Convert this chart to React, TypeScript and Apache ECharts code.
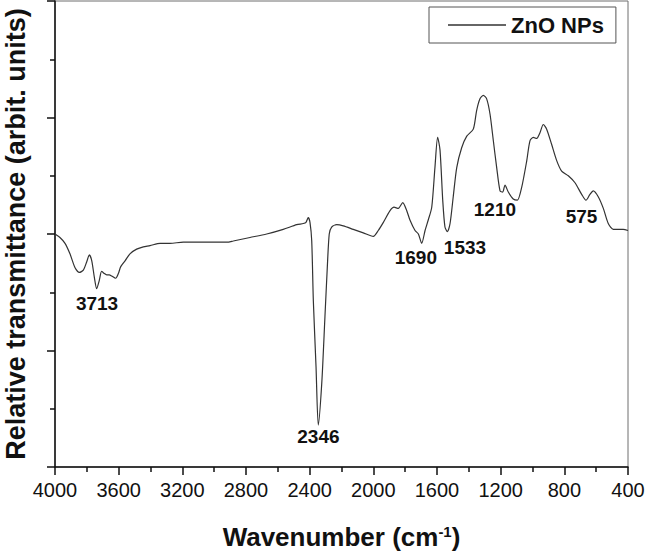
import React, { useEffect, useRef } from "react";
import * as echarts from "echarts";

// Wavenumber (cm^-1) sampled along the FTIR trace
const wavenumbers = [
  4000, 3969, 3937, 3906, 3874, 3847, 3822, 3801, 3784, 3769, 3753, 3738, 3722, 3707, 3690, 3675,
  3659, 3644, 3619, 3602, 3587, 3560, 3529, 3487, 3445, 3403, 3340, 3277, 3194, 3110, 3005, 2921,
  2880, 2775, 2670, 2566, 2481, 2440, 2423, 2409, 2398, 2387, 2377, 2360, 2346, 2324, 2304, 2289,
  2277, 2262, 2230, 2189, 2126, 2063, 2000, 1969, 1937, 1895, 1870, 1843, 1815, 1790, 1770, 1738,
  1717, 1696, 1675, 1655, 1633, 1613, 1596, 1581, 1564, 1550, 1535, 1518, 1498, 1476, 1445, 1413,
  1372, 1351, 1330, 1309, 1288, 1267, 1246, 1225, 1204, 1187, 1173, 1152, 1121, 1095, 1068, 1036,
  1016, 995, 974, 953, 932, 911, 880, 848, 817, 775, 733, 691, 664, 639, 618, 587,
  555, 524, 492, 461, 430, 400,
];

// Relative transmittance (arbitrary units)
const transmittance = [
  2.0, 1.97, 1.92, 1.83, 1.71, 1.67, 1.69, 1.76, 1.82, 1.77, 1.63, 1.53, 1.6, 1.68, 1.66, 1.65,
  1.65, 1.64, 1.62, 1.66, 1.72, 1.77, 1.83, 1.87, 1.89, 1.9, 1.92, 1.92, 1.93, 1.93, 1.93, 1.93,
  1.94, 1.97, 2.0, 2.04, 2.08, 2.09, 2.1, 2.14, 2.1, 1.94, 1.43, 0.86, 0.36, 0.72, 1.29, 1.72,
  2.0, 2.06, 2.08, 2.07, 2.04, 2.01, 1.98, 2.03, 2.1, 2.2, 2.23, 2.22, 2.27, 2.2, 2.12, 2.03,
  2.0, 1.92, 2.03, 2.12, 2.23, 2.57, 2.83, 2.72, 2.29, 2.06, 2.02, 2.09, 2.32, 2.57, 2.74, 2.84,
  2.9, 3.06, 3.16, 3.19, 3.16, 3.03, 2.8, 2.57, 2.37, 2.36, 2.42, 2.36, 2.3, 2.29, 2.4, 2.63,
  2.8, 2.83, 2.82, 2.87, 2.94, 2.9, 2.77, 2.63, 2.54, 2.5, 2.44, 2.34, 2.29, 2.34, 2.37, 2.32,
  2.22, 2.09, 2.04, 2.04, 2.04, 2.03,
];

// Peak annotations: text and anchor position (wavenumber, transmittance)
const peakLabels = ["3713", "2346", "1690", "1533", "1210", "575"];
const peakLabelWn = [3736, 2345, 1733, 1424, 1236, 692];
const peakLabelVal = [1.405, 0.266, 1.8, 1.887, 2.21, 2.15];

const seriesName = "ZnO NPs";
const xTicks = { min: 400, max: 4000, interval: 400 };
const yRange = { min: 0, max: 4, interval: 1 };

const FONT = "'Liberation Sans', Arial, Helvetica, sans-serif";

export default function App() {
  const ref = useRef<HTMLDivElement>(null);

  useEffect(() => {
    if (!ref.current) return;
    const chart = echarts.init(ref.current, undefined, { renderer: "svg" });
    const data = wavenumbers.map((w, i) => [w, transmittance[i]]);

    chart.setOption({
      animation: false,
      backgroundColor: "#ffffff",
      textStyle: { fontFamily: FONT },
      grid: {
        left: 55,
        right: 19,
        top: 1,
        bottom: 89,
        outerBoundsMode: "none",
        containLabel: false,
        show: true,
        borderColor: "#6f6f6f",
        borderWidth: 1,
      },
      legend: {
        data: [seriesName],
        left: 429,
        top: 7,
        padding: [7, 12, 7, 19],
        icon: "rect",
        itemWidth: 58,
        itemHeight: 1.3,
        borderColor: "#555",
        borderWidth: 1,
        textStyle: { fontSize: 22, fontWeight: "bold", color: "#111", fontFamily: FONT },
      },
      xAxis: {
        type: "value",
        inverse: true,
        min: xTicks.min,
        max: xTicks.max,
        interval: xTicks.interval,
        name: "Wavenumber (cm{sup|-1})",
        nameLocation: "middle",
        nameGap: 57,
        nameTextStyle: {
          fontSize: 26,
          fontWeight: "bold",
          color: "#111",
          fontFamily: FONT,
          rich: {
            sup: { fontSize: 15, fontWeight: "bold", color: "#111", verticalAlign: "top", fontFamily: FONT },
          },
        },
        axisLine: { lineStyle: { color: "#111", width: 1.5 } },
        axisTick: { length: 8, lineStyle: { color: "#111", width: 1.5 } },
        minorTick: { show: true, splitNumber: 2, length: 5, lineStyle: { color: "#111", width: 1.5 } },
        splitLine: { show: false },
        axisLabel: {
          fontSize: 20,
          color: "#111",
          margin: 13,
          fontFamily: FONT,
          formatter: (v: number) => String(v),
        },
      },
      yAxis: {
        type: "value",
        min: yRange.min,
        max: yRange.max,
        interval: yRange.interval,
        name: "Relative transmittance (arbit. units)",
        nameLocation: "middle",
        nameRotate: 90,
        nameGap: 26,
        nameTextStyle: { fontSize: 27, fontWeight: "bold", color: "#111", fontFamily: FONT },
        axisLine: { lineStyle: { color: "#111", width: 1.5 } },
        axisTick: { length: 8, lineStyle: { color: "#111", width: 1.5 } },
        minorTick: { show: true, splitNumber: 2, length: 5, lineStyle: { color: "#111", width: 1.5 } },
        splitLine: { show: false },
        axisLabel: { show: false },
      },
      series: [
        {
          name: seriesName,
          type: "line",
          data,
          showSymbol: false,
          symbol: "none",
          smooth: 0.25,
          lineStyle: { color: "#333", width: 1.2 },
          itemStyle: { color: "#333" },
          markPoint: {
            silent: true,
            symbol: "circle",
            symbolSize: 0,
            label: {
              show: true,
              position: "inside",
              formatter: "{b}",
              fontSize: 19,
              fontWeight: "bold",
              color: "#111",
              fontFamily: FONT,
            },
            data: peakLabels.map((t, i) => ({ name: t, coord: [peakLabelWn[i], peakLabelVal[i]] })),
          },
        },
      ],
    });

    return () => chart.dispose();
  }, []);

  return (
    <div
      ref={ref}
      style={{ position: "absolute", left: 0, top: 0, width: 647, height: 556 }}
    />
  );
}
